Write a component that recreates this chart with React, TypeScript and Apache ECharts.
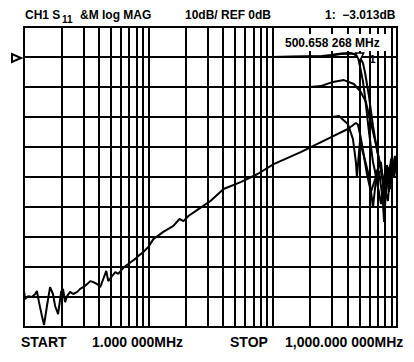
import React, { useEffect, useRef } from "react";
import * as echarts from "echarts";

// Axis definition (MHz, dB)
const FREQ_MIN = 1;
const FREQ_MAX = 1000;
const DB_MIN = -90;
const DB_MAX = 10;
const DB_STEP = 10;
const MINOR_FREQS = [2, 3, 4, 5, 6, 7, 8, 9, 20, 30, 40, 50, 60, 70, 80, 90, 200, 300, 400, 500, 600, 700, 800, 900];

// Marker
const MARKER_FREQ = 500.658268;
const MARKER_DB = -3.013;

// Traces: [frequency MHz, dB]
const trace1: [number, number][] = [
  [1, 0], [100, 0], [250, 0.2], [294, 0.5], [354, 1], [426, 1.2], [450, 1], [485, 0], [503, -3],
  [532, -8], [552, -13], [573, -19], [595, -25], [617, -30], [641, -35], [665, -38], [690, -42],
  [716, -45], [743, -49], [771, -44], [786, -52], [800, -46], [831, -40], [862, -45], [895, -37],
  [928, -40], [964, -35], [1000, -38],
];
const trace1Mem: [number, number][] = [
  [1, 0], [100, 0], [250, 0.3], [294, 0.7], [354, 1.2], [426, 1.3], [494, 0.5], [532, -2],
  [552, -5], [573, -9], [595, -13], [617, -18], [641, -23], [665, -27], [690, -31], [716, -34],
  [743, -37], [771, -40], [786, -47], [800, -42], [831, -36], [862, -41], [895, -34], [928, -38],
  [964, -33], [1000, -36],
];
const trace2: [number, number][] = [
  [1, -10], [200, -10], [244, -9.7], [305, -8.3], [374, -7.7], [450, -9], [512, -11.7], [562, -15],
  [617, -22], [677, -29], [716, -34], [743, -38], [771, -42], [800, -50], [815, -45], [846, -39],
  [878, -44], [911, -35], [946, -38], [1000, -34],
];
const trace3: [number, number][] = [
  [1, -20], [300, -20], [341, -19.7], [402, -22.3], [442, -27.3], [467, -35], [476, -40],
  [503, -28.3], [542, -33], [595, -39.7], [641, -50], [690, -38], [743, -35], [786, -45],
  [831, -38], [895, -36], [946, -40], [1000, -35],
];
const trace4: [number, number][] = [
  [1, -78], [1.02, -80.7], [1.08, -79.7], [1.16, -80], [1.23, -79], [1.27, -78], [1.32, -81.7],
  [1.4, -86.7], [1.45, -89.3], [1.53, -83], [1.62, -76.7], [1.71, -79], [1.78, -83], [1.88, -85.7],
  [1.99, -78.3], [2.06, -77.3], [2.14, -81.7], [2.22, -79.7], [2.35, -78.3], [2.49, -79],
  [2.68, -78.3], [2.83, -77.3], [2.99, -76.7], [3.22, -75.7], [3.41, -74.7], [3.6, -75],
  [3.88, -75.7], [4.1, -76.7], [4.34, -74], [4.59, -71.3], [4.76, -74.7], [5.12, -73],
  [5.42, -71.7], [5.73, -72.3], [6.17, -70.7], [6.53, -69.7], [6.9, -69], [7.43, -68],
  [7.86, -67.3], [8.31, -66.3], [9.12, -65], [10, -63.3], [10.97, -60.7], [13.2, -58.3],
  [15.9, -56.3], [17.8, -54], [19.2, -54.7], [21, -53], [25.3, -50.7], [31.6, -48], [40.3, -44],
  [55.2, -41.7], [75.7, -39], [101.9, -35.7], [168, -31.7], [310, -26.3], [402, -24], [467, -22],
  [485, -22.5], [512, -27], [542, -33], [573, -39], [617, -45], [664, -41], [716, -38], [771, -48],
  [786, -55], [800, -44], [846, -48], [878, -38], [911, -33], [946, -37], [981, -34], [1000, -38],
];

const FONT = "'Liberation Sans', Arial, sans-serif";

export default function App() {
  const ref = useRef<HTMLDivElement>(null);
  useEffect(() => {
    if (!ref.current) return;
    const chart = echarts.init(ref.current, null, { renderer: "svg" });
    const lineSeries = (data: [number, number][], extra: any = {}) => ({
      type: "line",
      data,
      showSymbol: false,
      symbol: "none",
      smooth: false,
      lineStyle: { color: "#000", width: 2 },
      z: 5,
      ...extra,
    });
    const textStyle = (text: string, x: number, y: number, size = 11) => ({
      type: "text",
      x,
      y,
      style: { text, fill: "#000", font: `bold ${size}px ${FONT}`, textVerticalAlign: "middle" },
      z: 20,
    });
    chart.setOption({
      animation: false,
      backgroundColor: "#fff",
      grid: {
        left: 24,
        top: 27,
        width: 373,
        height: 300,
        show: true,
        borderColor: "#000",
        borderWidth: 2,
        backgroundColor: "transparent",
      },
      xAxis: {
        type: "log",
        logBase: 10,
        min: FREQ_MIN,
        max: FREQ_MAX,
        axisLine: { show: false },
        axisTick: { show: false },
        axisLabel: { show: false },
        splitLine: { show: true, lineStyle: { color: "#000", width: 2 } },
      },
      yAxis: {
        type: "value",
        min: DB_MIN,
        max: DB_MAX,
        interval: DB_STEP,
        axisLine: { show: false },
        axisTick: { show: false },
        axisLabel: { show: false },
        splitLine: { show: true, lineStyle: { color: "#000", width: 2 } },
      },
      series: [
        lineSeries(trace4, {
          markLine: {
            silent: true,
            symbol: ["none", "none"],
            label: { show: false },
            lineStyle: { color: "#000", width: 2, type: "solid" },
            data: MINOR_FREQS.map((f) => ({ xAxis: f })),
          },
        }),
        lineSeries(trace3),
        lineSeries(trace2),
        lineSeries(trace1Mem),
        lineSeries(trace1, {
          markPoint: {
            symbol: "path://M0,0 L10,0 L5,9 Z",
            symbolSize: [8, 8],
            symbolOffset: [0, -9],
            itemStyle: { color: "#fff", borderColor: "#000", borderWidth: 1.5 },
            label: {
              show: true,
              position: "right",
              formatter: "1",
              color: "#000",
              fontSize: 11,
              fontWeight: "bold",
              fontFamily: FONT,
              offset: [0, 2],
            },
            data: [{ coord: [MARKER_FREQ, MARKER_DB] }],
            z: 15,
          },
        }),
      ],
      graphic: [
        textStyle("CH1 S", 25, 15, 12),
        textStyle("11", 62, 19, 10),
        textStyle("&M log MAG", 80, 15, 12),
        textStyle("10dB/ REF 0dB", 185, 15, 12),
        textStyle("1:  \u22123.013dB", 325, 15, 12),
        textStyle("START", 21, 342, 14),
        textStyle("1.000 000MHz", 92, 342, 14),
        textStyle("STOP", 230, 342, 14),
        textStyle("1,000.000 000MHz", 285, 342, 14),
        {
          type: "rect",
          shape: { x: 281, y: 34, width: 108, height: 17 },
          style: { fill: "#fff" },
          z: 18,
        },
        textStyle("500.658 268 MHz", 285, 43, 12),
        {
          type: "polygon",
          shape: { points: [[12, 54], [12, 62], [21, 58]] },
          style: { fill: "#fff", stroke: "#000", lineWidth: 2 },
          z: 20,
        },
      ],
    });
    return () => chart.dispose();
  }, []);
  return <div ref={ref} style={{ position: "absolute", left: 0, top: 0, width: 414, height: 362 }} />;
}
